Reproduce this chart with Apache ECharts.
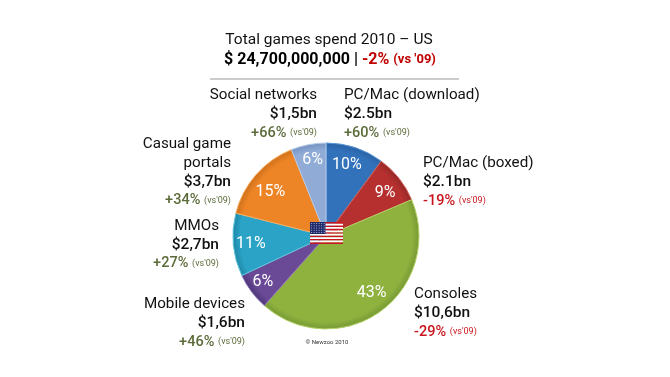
<!DOCTYPE html>
<html>
<head>
<meta charset="utf-8">
<style>
  html, body { margin: 0; padding: 0; background: #fff; }
  #chart { width: 670px; height: 377px; }
</style>
</head>
<body>
<div id="chart"></div>
<script src="https://cdn.jsdelivr.net/npm/echarts@6/dist/echarts.min.js"></script>
<script>
// data
const segments = ["PC/Mac (download)", "PC/Mac (boxed)", "Consoles", "Mobile devices", "MMOs", "Casual game\nportals", "Social networks"];
const spendBn = [2.5, 2.1, 10.6, 1.6, 2.7, 3.7, 1.5];
const spendText = ["$2.5bn", "$2.1bn", "$10,6bn", "$1,6bn", "$2,7bn", "$3,7bn", "$1,5bn"];
const shareText = ["10%", "9%", "43%", "6%", "11%", "15%", "6%"];
const changeText = ["+60%", "-19%", "-29%", "+46%", "+27%", "+34%", "+66%"];

// [edge, main, highlight] per slice
const sliceColors = [
  ["#2a62a6", "#3272bb", "#5a96d4"],
  ["#942927", "#b5302e", "#d2625c"],
  ["#779a35", "#8fb23f", "#b4d268"],
  ["#4e3679", "#6a4a97", "#9078b8"],
  ["#1f88a8", "#2ba3c6", "#62c6de"],
  ["#cf711b", "#ed8426", "#f8ac5e"],
  ["#7693c2", "#8fabd6", "#b6cbe8"]
];

// anchor of each outside label: x, y of first line top, align
const labelPos = [
  [344, 86.3, "left"],
  [423, 154.3, "left"],
  [414, 285.3, "left"],
  [245, 295.3, "right"],
  [219, 216.8, "right"],
  [231, 135.3, "right"],
  [317, 86.3, "right"]
];
// small shifts of the share labels inside the slices
const shareNudge = [[-3, 2], [-1, 4], [1, -5], [-2, 0], [1, 1], [2, 6], [1, -1]];

const FONT = "Roboto, 'Noto Sans', sans-serif";
const GREEN = "#5b6b3a";
const RED = "#c8141c";
const LINE_H = 18.7;
const cx = 326, cy = 236, radius = 93;

const chart = echarts.init(document.getElementById("chart"));

function sliceFill(c) {
  return new echarts.graphic.RadialGradient(cx, cy, radius, [
    { offset: 0, color: c[1] },
    { offset: 0.92, color: c[1] },
    { offset: 1, color: c[0] }
  ], true);
}

const pieData = spendBn.map((v, i) => ({
  value: v,
  name: segments[i],
  itemStyle: { color: sliceFill(sliceColors[i]), borderColor: sliceColors[i][2], borderWidth: 1 }
}));

// outside labels
const labelGraphics = [];
segments.forEach((name, i) => {
  const [x, y, align] = labelPos[i];
  const changeColor = changeText[i][0] === "+" ? GREEN : RED;
  labelGraphics.push({
    type: "text",
    x: x,
    y: y,
    style: {
      text: name + "\n{val|" + spendText[i] + "}\n{pct|" + changeText[i] + "} {vs|(vs'09)}",
      align: align,
      verticalAlign: "top",
      fill: "#111",
      font: "15.2px " + FONT,
      lineHeight: LINE_H,
      rich: {
        val: { font: "500 15.5px " + FONT, fill: "#111", lineHeight: LINE_H },
        pct: { font: "500 14.5px " + FONT, fill: changeColor, lineHeight: LINE_H },
        vs: { font: "9px " + FONT, fill: changeColor, lineHeight: LINE_H }
      }
    }
  });
});

// flag in the middle of the pie
const flagX = 310, flagY = 222, flagW = 33, flagH = 22;
const flag = [];
for (let s = 0; s < 7; s++) {
  flag.push({ type: "rect", shape: { x: flagX, y: flagY + s * 2 * flagH / 13, width: flagW, height: flagH / 13 }, style: { fill: "#c8161d" }, z: 20 });
}
for (let s = 0; s < 6; s++) {
  flag.push({ type: "rect", shape: { x: flagX, y: flagY + (s * 2 + 1) * flagH / 13, width: flagW, height: flagH / 13 }, style: { fill: "#fff" }, z: 20 });
}
flag.push({ type: "rect", shape: { x: flagX, y: flagY, width: 15.5, height: 12 }, style: { fill: "#1f2a6b" }, z: 21 });
for (let r = 0; r < 5; r++) {
  for (let c = 0; c < 6; c++) {
    flag.push({ type: "circle", shape: { cx: flagX + 1.6 + c * 2.5, cy: flagY + 1.5 + r * 2.25, r: 0.5 }, style: { fill: "#c9cfe6" }, z: 22 });
  }
}

chart.setOption({
  animation: false,
  backgroundColor: "#fff",
  series: [
    {
      type: "pie",
      silent: true,
      center: [cx, cy],
      radius: [0, radius],
      startAngle: 90,
      clockwise: true,
      label: { show: false },
      labelLine: { show: false },
      data: pieData
    },
    {
      // see-through ring, only carries the share labels further out than the slice middle
      type: "pie",
      silent: true,
      center: [cx, cy],
      radius: [54, radius],
      startAngle: 90,
      clockwise: true,
      itemStyle: { color: "transparent" },
      label: {
        show: true,
        position: "inside",
        color: "#fff",
        fontFamily: FONT,
        fontSize: 16,
        formatter: (p) => shareText[p.dataIndex]
      },
      labelLine: { show: false },
      labelLayout: (p) => ({ dx: shareNudge[p.dataIndex][0], dy: shareNudge[p.dataIndex][1] }),
      data: spendBn.map((v, i) => ({ value: v, name: segments[i] }))
    }
  ],
  graphic: [
    {
      type: "text",
      x: 329,
      y: 32,
      style: { text: "Total games spend 2010 – US", align: "center", fill: "#111", font: "15.5px " + FONT }
    },
    {
      type: "text",
      x: 330,
      y: 52,
      style: {
        text: "{a|$ 24,700,000,000 | }{b|-2% }{c|(vs '09)}",
        align: "center",
        rich: {
          a: { font: "700 16px " + FONT, fill: "#000" },
          b: { font: "700 16px " + FONT, fill: "#c00000" },
          c: { font: "700 13px " + FONT, fill: "#c00000" }
        }
      }
    },
    {
      type: "line",
      shape: { x1: 210, y1: 79, x2: 459, y2: 79 },
      style: { stroke: "#cccccc", lineWidth: 2 }
    },
    {
      type: "text",
      x: 327,
      y: 339,
      style: { text: "© Newzoo 2010", align: "center", fill: "#333", font: "6px " + FONT }
    }
  ].concat(labelGraphics, flag)
});
</script>
</body>
</html>
